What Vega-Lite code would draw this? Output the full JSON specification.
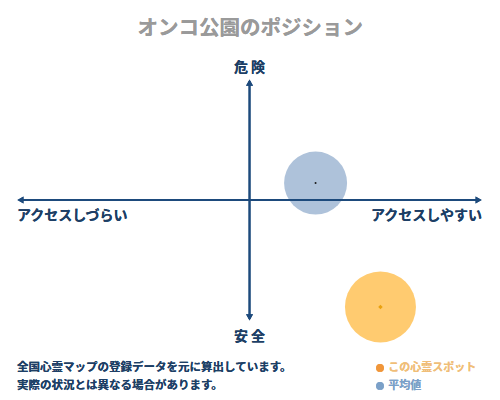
{
  "$schema": "https://vega.github.io/schema/vega-lite/v6.json",
  "autosize": {"type": "fit", "contains": "padding"},
  "width": 500,
  "height": 400,
  "padding": 0,
  "background": "white",
  "view": {"stroke": null},
  "config": {"font": "Noto Sans CJK JP"},
  "data": {
    "values": [
      {"name": "平均値", "access": 0.284, "danger": 0.14},
      {"name": "この心霊スポット", "access": 0.563, "danger": -0.884}
    ]
  },
  "encoding": {
    "x": {"field": "access", "type": "quantitative", "scale": {"domain": [-1.073, 1.077], "nice": false, "zero": false}, "axis": null},
    "y": {"field": "danger", "type": "quantitative", "scale": {"domain": [-1.653, 1.653], "nice": false, "zero": false}, "axis": null}
  },
  "layer": [
    {
      "mark": {"type": "point", "filled": true, "opacity": 1},
      "encoding": {
        "color": {"condition": {"test": "datum.name === '平均値'", "value": "#AEC2DA"}, "value": "#FFCB70"},
        "size": {"condition": {"test": "datum.name === '平均値'", "value": 3970}, "value": 5040}
      }
    },
    {
      "mark": {"type": "point", "filled": true, "opacity": 1},
      "encoding": {
        "shape": {"condition": {"test": "datum.name === '平均値'", "value": "circle"}, "value": "diamond"},
        "color": {"condition": {"test": "datum.name === '平均値'", "value": "#1a1a1a"}, "value": "#E9A10F"},
        "size": {"condition": {"test": "datum.name === '平均値'", "value": 4}, "value": 20}
      }
    },
    {
      "mark": {"type": "rule", "color": "#1D4A7C", "strokeWidth": 2},
      "encoding": {"x": {"datum": -0.99}, "x2": {"datum": 0.99}, "y": {"datum": 0}}
    },
    {
      "mark": {"type": "rule", "color": "#1D4A7C", "strokeWidth": 2},
      "encoding": {"y": {"datum": 0.98}, "y2": {"datum": -0.98}, "x": {"datum": 0}}
    },
    {
      "mark": {"type": "point", "filled": true, "opacity": 1, "color": "#1D4A7C", "shape": "triangle-left", "size": 50},
      "encoding": {"x": {"datum": -0.985}, "y": {"datum": 0}}
    },
    {
      "mark": {"type": "point", "filled": true, "opacity": 1, "color": "#1D4A7C", "shape": "triangle-right", "size": 50},
      "encoding": {"x": {"datum": 0.985}, "y": {"datum": 0}}
    },
    {
      "mark": {"type": "point", "filled": true, "opacity": 1, "color": "#1D4A7C", "shape": "triangle-up", "size": 50},
      "encoding": {"x": {"datum": 0}, "y": {"datum": 0.97}}
    },
    {
      "mark": {"type": "point", "filled": true, "opacity": 1, "color": "#1D4A7C", "shape": "triangle-down", "size": 50},
      "encoding": {"x": {"datum": 0}, "y": {"datum": -0.97}}
    },
    {
      "mark": {"type": "text", "text": "オンコ公園のポジション", "fontSize": 20.5, "fontWeight": "bold", "color": "#9A9A9A", "align": "center", "baseline": "middle"},
      "encoding": {"x": {"datum": 0.003}, "y": {"datum": 1.413}}
    },
    {
      "mark": {"type": "text", "text": "危 険", "fontSize": 14, "fontWeight": "bold", "color": "#1D3F66", "align": "center", "baseline": "middle"},
      "encoding": {"x": {"datum": 0}, "y": {"datum": 1.091}}
    },
    {
      "mark": {"type": "text", "text": "安 全", "fontSize": 14, "fontWeight": "bold", "color": "#1D3F66", "align": "center", "baseline": "middle"},
      "encoding": {"x": {"datum": 0}, "y": {"datum": -1.132}}
    },
    {
      "mark": {"type": "text", "text": "アクセスしづらい", "fontSize": 14, "fontWeight": "bold", "color": "#1D3F66", "align": "left", "baseline": "middle"},
      "encoding": {"x": {"datum": -1}, "y": {"datum": -0.132}}
    },
    {
      "mark": {"type": "text", "text": "アクセスしやすい", "fontSize": 14, "fontWeight": "bold", "color": "#1D3F66", "align": "right", "baseline": "middle"},
      "encoding": {"x": {"datum": 1}, "y": {"datum": -0.132}}
    },
    {
      "mark": {"type": "text", "text": "全国心霊マップの登録データを元に算出しています。", "fontSize": 11.5, "fontWeight": "bold", "color": "#1D3F66", "align": "left", "baseline": "middle"},
      "encoding": {"x": {"datum": -1}, "y": {"datum": -1.388}}
    },
    {
      "mark": {"type": "text", "text": "実際の状況とは異なる場合があります。", "fontSize": 11.5, "fontWeight": "bold", "color": "#1D3F66", "align": "left", "baseline": "middle"},
      "encoding": {"x": {"datum": -1}, "y": {"datum": -1.537}}
    },
    {
      "mark": {"type": "point", "filled": true, "opacity": 1, "color": "#F0963A", "size": 60},
      "encoding": {"x": {"datum": 0.561}, "y": {"datum": -1.388}}
    },
    {
      "mark": {"type": "point", "filled": true, "opacity": 1, "color": "#7BA0C8", "size": 60},
      "encoding": {"x": {"datum": 0.561}, "y": {"datum": -1.537}}
    },
    {
      "mark": {"type": "text", "text": "この心霊スポット", "fontSize": 11, "fontWeight": "bold", "color": "#F0BE78", "align": "left", "baseline": "middle"},
      "encoding": {"x": {"datum": 0.596}, "y": {"datum": -1.388}}
    },
    {
      "mark": {"type": "text", "text": "平均値", "fontSize": 11, "fontWeight": "bold", "color": "#7BA0C8", "align": "left", "baseline": "middle"},
      "encoding": {"x": {"datum": 0.596}, "y": {"datum": -1.537}}
    }
  ]
}
